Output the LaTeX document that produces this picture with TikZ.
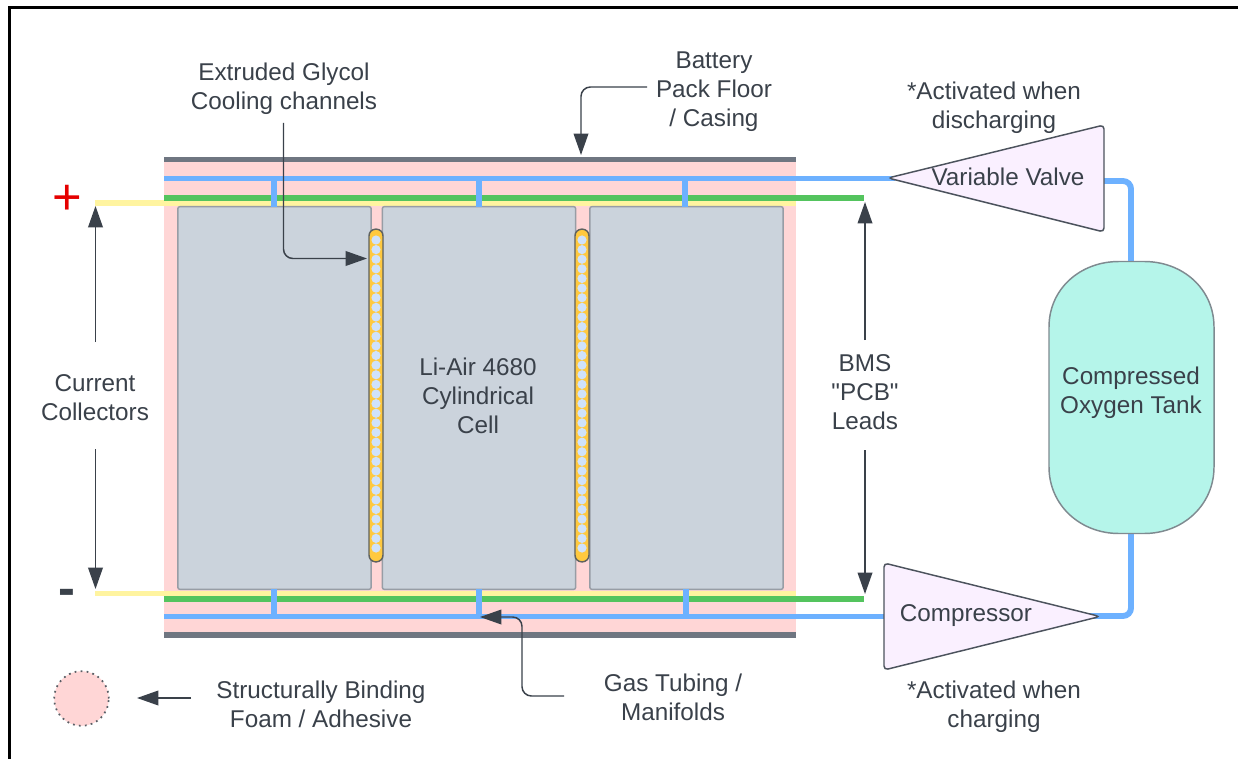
\documentclass[tikz,border=0pt]{standalone}
\usepackage{fontspec}
\setmainfont{Liberation Sans}
\newfontfamily\plainf{Liberation Sans}
\usetikzlibrary{arrows.meta}
\definecolor{txt}{HTML}{3A414A}
\definecolor{pinkbg}{HTML}{FFD6D6}
\definecolor{strip}{HTML}{6F7681}
\definecolor{gas}{HTML}{6DB1FF}
\definecolor{bms}{HTML}{54C45E}
\definecolor{coll}{HTML}{FFF4A0}
\definecolor{cellc}{HTML}{CBD3DC}
\definecolor{cellb}{HTML}{979DA5}
\definecolor{cool}{HTML}{FFC93F}
\definecolor{coolb}{HTML}{5F625F}
\definecolor{dotc}{HTML}{CFE2FB}
\definecolor{tri}{HTML}{FAF0FF}
\definecolor{trib}{HTML}{4C535D}
\definecolor{tank}{HTML}{B5F5EA}
\definecolor{tankb}{HTML}{7F8A90}
\newcommand{\ls}{\strut}
\tikzset{
  x=0.75pt,y=-0.75pt,
  lab/.style={text=txt,inner sep=0pt,align=center,font=\fontsize{18.2pt}{21.75pt}\selectfont},
  cellbox/.style={draw=cellb,fill=cellc,line width=1.1pt,rounded corners=1.5pt,inner sep=0pt,minimum width=145pt,minimum height=287pt},
  gasline/.style={draw=gas,line width=4.2pt},
  stub/.style={draw=gas,line width=4.4pt},
  bmsline/.style={draw=bms,line width=3.8pt},
  collline/.style={draw=coll,line width=3.8pt},
  stripbox/.style={fill=strip,inner sep=0pt,minimum width=474pt,minimum height=4.2pt},
  pointer/.style={draw=txt,line width=1.1pt,rounded corners=7pt,-{Triangle[length=16pt,width=11pt,fill=txt]}},
  coolbar/.style={draw=coolb,fill=cool,line width=1.1pt,rounded corners=5pt,inner sep=0pt,minimum width=10.5pt,minimum height=249.5pt},
  dotn/.style={circle,fill=dotc,inner sep=0pt,minimum size=6.9pt},
  trishape/.style={draw=trib,fill=tri,line width=1.1pt,rounded corners=3pt},
}
\begin{document}
\begin{tikzpicture}
\useasboundingbox (0,0) rectangle (1238,759);
\fill[white] (0,0) rectangle (1238,759);
\coordinate (frameA) at (9.5,759);
\coordinate (frameB) at (9.5,7.5);
\coordinate (frameC) at (1238,7.5);
\draw[black,line width=2.4pt] (frameA) -- (frameB) -- (frameC);

% pack
\fill[pinkbg] (164,157) rectangle (796,638);
\node[stripbox] (stripT) at (480,159.5) {};
\node[stripbox] (stripB) at (480,635) {};

% tube and lead lines
\coordinate (gasTL) at (164,178.5);
\coordinate (gasTR) at (895,178.5);
\coordinate (gasBL) at (164,616.5);
\coordinate (gasBR) at (888,616.5);
\coordinate (bmsTL) at (164,198);
\coordinate (bmsTR) at (864,198);
\coordinate (bmsBL) at (164,599);
\coordinate (bmsBR) at (864,599);
\coordinate (colTL) at (95,203);
\coordinate (colTR) at (796,203);
\coordinate (colBL) at (95,593.5);
\coordinate (colBR) at (796,593.5);
\draw[gasline] (gasTL) -- (gasTR);
\draw[gasline] (gasBL) -- (gasBR);
\draw[collline] (colTL) -- (colTR);
\draw[collline] (colBL) -- (colBR);
\draw[bmsline] (bmsTL) -- (bmsTR);
\draw[bmsline] (bmsBL) -- (bmsBR);

% cells
\node[cellbox] (cellA) at (274.5,398) {};
\node[cellbox] (cellB) at (479,398) {};
\node[cellbox] (cellC) at (686.5,398) {};

% gas stubs
\foreach \n/\x/\y in {a/274/178.5,b/479/178.5,c/685/178.5}{
  \coordinate (st\n) at (\x,\y);
  \coordinate (sb\n) at (\x,207);
  \draw[stub] (st\n) -- (sb\n);
}
\foreach \n/\x in {a/274,b/479,c/686}{
  \coordinate (ut\n) at (\x,589);
  \coordinate (ub\n) at (\x,616.5);
  \draw[stub] (ut\n) -- (ub\n);
}

% cooling channels
\node[coolbar] (coolA) at (376,395.5) {};
\node[coolbar] (coolB) at (582,395.5) {};
\foreach \i in {0,...,32}{
  \node[dotn] (da\i) at (376,240+9.625*\i) {};
  \node[dotn] (db\i) at (582,240+9.625*\i) {};
}

% tank connections
\coordinate (vOut) at (1100,181);
\coordinate (vC) at (1131,181);
\coordinate (tTop) at (1131,264);
\coordinate (tBot) at (1131,531);
\coordinate (cC) at (1131,616);
\coordinate (cOut) at (1090,616);
\draw[gas,line width=4.4pt,rounded corners=6pt] (vOut) -- (vC) -- (tTop);
\draw[gas,line width=4.4pt,rounded corners=6pt] (tBot) -- (cC) -- (cOut);

% valve, compressor
\draw[trishape] (888,178) -- (1104,125) -- (1104,232) -- cycle;
\draw[trishape] (884,563) -- (1100,616.5) -- (884,670) -- cycle;
\node[lab] (valveT) at (1008,180) {\ls Variable Valve};
\node[lab] (compT) at (966,616) {\ls Compressor};

\draw[draw=tankb,fill=tank,line width=1.1pt] (1049,327)
  .. controls (1049,289) and (1080,261.5) .. (1119,261.5)
  -- (1144,261.5)
  .. controls (1183,261.5) and (1214,289) .. (1214,327)
  -- (1214,467)
  .. controls (1214,505) and (1183,533.5) .. (1144,533.5)
  -- (1119,533.5)
  .. controls (1080,533.5) and (1049,505) .. (1049,467) -- cycle;
\node[lab] (tankT) at (1131,393.5) {\ls Compressed\\\ls Oxygen Tank};

% legend circle
\node[circle,draw=txt!85!white,fill=pinkbg,line width=1.3pt,dash pattern=on 1.3pt off 3.2pt,minimum size=41pt,inner sep=0pt] (foam) at (81.5,698.5) {};

% labels
\node[lab] (glycT) at (284,89.5) {\ls Extruded Glycol\\\ls Cooling channels};
\node[lab] (packT) at (714,92) {\ls Battery\\\ls Pack Floor\\\ls / Casing};
\node[lab] (actT) at (994,108.5) {\ls *Activated when\\\ls discharging};
\node[lab] (actB) at (994,707.5) {\ls *Activated when\\\ls charging};
\node[lab] (gasT) at (673,700.5) {\ls Gas Tubing /\\\ls Manifolds};
\node[lab] (foamT) at (321,707.5) {\ls Structurally Binding\\\ls Foam / Adhesive};
\node[lab] (bmsT) at (865,395) {\ls BMS\\\ls {\plainf "PCB"}\\\ls Leads};
\node[lab] (curT) at (95,400.5) {\ls Current\\\ls Collectors};
\node[lab] (cellT) at (478,399) {\ls Li-Air 4680\\\ls Cylindrical\\\ls Cell};
\node[text=red!90!black,inner sep=0pt,font=\fontsize{38pt}{38pt}\selectfont] (plus) at (67,200) {+};
\node[text=txt,inner sep=0pt,font=\bfseries\fontsize{38pt}{38pt}\selectfont] (minus) at (67,597) {-};

% pointers
\coordinate (p1a) at (95.5,342);
\coordinate (p1b) at (95.5,206);
\coordinate (p2a) at (95.5,449);
\coordinate (p2b) at (95.5,589);
\coordinate (p3a) at (865,340);
\coordinate (p3b) at (865,202);
\coordinate (p4a) at (865,450);
\coordinate (p4b) at (865,594);
\coordinate (p5a) at (283.5,123);
\coordinate (p5c) at (283.5,258.5);
\coordinate (p5b) at (367,258.5);
\coordinate (p6a) at (647,87);
\coordinate (p6c) at (581,87);
\coordinate (p6b) at (581,155);
\coordinate (p7a) at (564,696);
\coordinate (p7c) at (522,696);
\coordinate (p7d) at (522,617);
\coordinate (p7b) at (480,617);
\coordinate (p8a) at (191,698);
\coordinate (p8b) at (137,698);
\draw[pointer] (p1a) -- (p1b);
\draw[pointer] (p2a) -- (p2b);
\draw[pointer] (p3a) -- (p3b);
\draw[pointer] (p4a) -- (p4b);
\draw[pointer] (p5a) -- (p5c) -- (p5b);
\draw[pointer] (p6a) -- (p6c) -- (p6b);
\draw[pointer] (p7a) -- (p7c) -- (p7d) -- (p7b);
\draw[pointer] (p8a) -- (p8b);
\end{tikzpicture}
\end{document}
